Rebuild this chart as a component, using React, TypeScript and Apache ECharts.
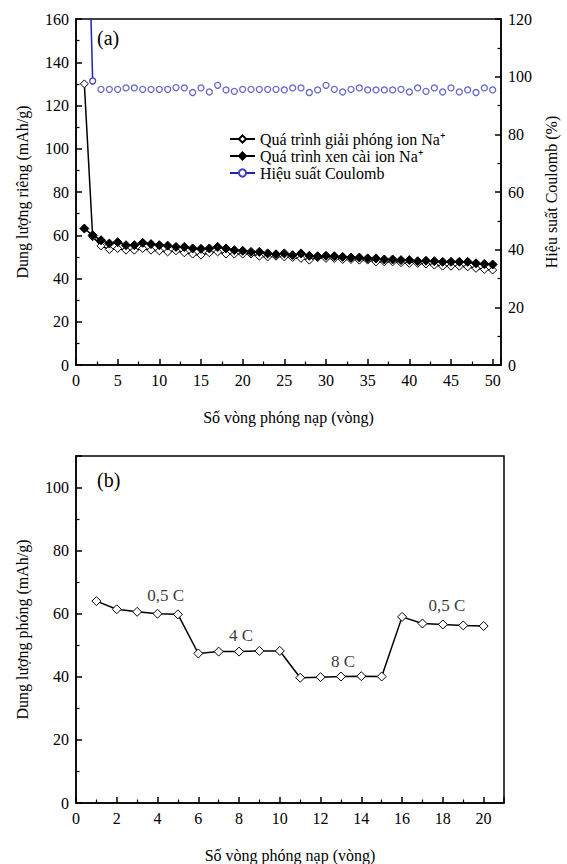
import React, { useEffect, useRef } from "react";
import * as echarts from "echarts";

// ---------- Data (a) ----------
const cyclesA = [1, 2, 3, 4, 5, 6, 7, 8, 9, 10, 11, 12, 13, 14, 15, 16, 17, 18, 19, 20, 21, 22, 23, 24, 25, 26, 27, 28, 29, 30, 31, 32, 33, 34, 35, 36, 37, 38, 39, 40, 41, 42, 43, 44, 45, 46, 47, 48, 49, 50];
// Quá trình giải phóng ion Na+ (hollow diamonds)
const chargeCap = [130, 59.3, 55.1, 53.4, 53.9, 53.1, 53.1, 53.9, 53.1, 52.8, 52.3, 52.8, 51.9, 51.3, 50.8, 51.9, 52.3, 51.3, 51.3, 51.3, 51.3, 50.3, 50.0, 50.3, 50.0, 49.7, 49.3, 48.5, 49.7, 49.3, 49.3, 48.8, 48.8, 48.5, 48.5, 47.7, 47.7, 47.7, 47.3, 47.0, 47.0, 46.7, 46.2, 45.7, 45.7, 45.7, 45.4, 44.7, 44.2, 43.9];
// Quá trình xen cài ion Na+ (filled diamonds)
const dischargeCap = [63.1, 60.0, 57.7, 56.2, 56.8, 55.4, 55.4, 56.5, 55.9, 55.4, 55.2, 54.6, 54.6, 53.9, 53.7, 53.9, 54.6, 53.9, 53.1, 52.8, 52.3, 52.3, 51.6, 51.2, 51.6, 50.8, 51.6, 50.5, 50.3, 50.5, 50.3, 50.0, 49.7, 49.7, 49.3, 49.3, 48.8, 48.8, 48.5, 48.5, 48.0, 48.2, 48.0, 47.7, 47.7, 47.7, 47.7, 47.0, 46.7, 46.5];
// Hiệu suất Coulomb (%)
const coulombEff = [206, 98.5, 95.6, 95.6, 95.6, 96.1, 96.1, 95.6, 95.6, 95.6, 95.6, 96.2, 96.1, 94.5, 96.1, 94.7, 97.0, 95.4, 94.9, 95.6, 95.6, 95.6, 95.6, 95.6, 95.4, 96.1, 96.1, 94.5, 95.4, 97.0, 95.6, 94.7, 95.6, 96.1, 95.4, 95.4, 95.4, 95.4, 95.6, 94.7, 96.1, 94.9, 96.1, 94.7, 96.1, 94.7, 95.4, 94.5, 96.1, 95.4];

// ---------- Data (b) ----------
const cyclesB = [1, 2, 3, 4, 5, 6, 7, 8, 9, 10, 11, 12, 13, 14, 15, 16, 17, 18, 19, 20];
const rateCap = [64.0, 61.4, 60.6, 60.0, 59.8, 47.4, 48.0, 48.0, 48.2, 48.2, 39.7, 39.9, 40.1, 40.2, 40.1, 59.0, 56.9, 56.6, 56.3, 56.1];
const rateLabels: [number, number, string][] = [
  [4.4, 65.8, "0,5 C"],
  [8.1, 53.1, "4 C"],
  [13.1, 44.7, "8 C"],
  [18.2, 62.5, "0,5 C"],
];

const SERIES_CHARGE = "Quá trình giải phóng ion Na⁺";
const SERIES_DISCHARGE = "Quá trình xen cài ion Na⁺";
const SERIES_EFF = "Hiệu suất Coulomb";

const FONT = "Liberation Serif";
const BLACK = "#000";
const BLUE_LINE = "#2222b0";
const BLUE_MARK = "#3f3fbf";

function axisCommon(labelFmt?: (v: number) => string) {
  return {
    axisLine: { show: true, onZero: false, lineStyle: { color: BLACK, width: 1.5 } },
    axisTick: { show: true, inside: true, length: 6, lineStyle: { color: BLACK, width: 1.5 } },
    minorTick: { show: true, splitNumber: 2, length: 3.5, lineStyle: { color: BLACK, width: 1.2 } },
    splitLine: { show: false },
    axisLabel: {
      color: BLACK,
      fontSize: 16,
      fontFamily: FONT,
      margin: 7,
      formatter: labelFmt,
    },
    nameTextStyle: { color: BLACK, fontSize: 16, fontFamily: FONT },
  };
}

export default function App() {
  const ref = useRef<HTMLDivElement>(null);

  useEffect(() => {
    if (!ref.current) return;
    const chart = echarts.init(ref.current, undefined, { renderer: "svg" });

    const zip = (xs: number[], ys: number[]) => xs.map((x, i) => [x, ys[i]]);

    const option: any = {
      animation: false,
      backgroundColor: "#fff",
      textStyle: { fontFamily: FONT },
      grid: [
        { left: 76, right: 63, top: 19, height: 346, show: true, borderColor: BLACK, borderWidth: 1.5, backgroundColor: "transparent" },
        { left: 76, right: 63, top: 456, height: 347, show: true, borderColor: BLACK, borderWidth: 1.5, backgroundColor: "transparent" },
      ],
      xAxis: [
        {
          gridIndex: 0,
          type: "value",
          min: 0,
          max: 51,
          interval: 5,
          ...axisCommon((v: number) => (v % 5 === 0 ? String(v) : "")),
          name: "Số vòng phóng nạp (vòng)",
          nameLocation: "middle",
          nameGap: 44,
        },
        {
          gridIndex: 1,
          type: "value",
          min: 0,
          max: 21,
          interval: 2,
          ...axisCommon((v: number) => (v % 2 === 0 ? String(v) : "")),
          name: "Số vòng phóng nạp (vòng)",
          nameLocation: "middle",
          nameGap: 44,
        },
      ],
      yAxis: [
        {
          gridIndex: 0,
          type: "value",
          min: 0,
          max: 160,
          interval: 20,
          ...axisCommon(),
          name: "Dung lượng riêng (mAh/g)",
          nameLocation: "middle",
          nameGap: 46,
          nameRotate: 90,
        },
        {
          gridIndex: 0,
          type: "value",
          position: "right",
          min: 0,
          max: 120,
          interval: 20,
          ...axisCommon(),
          name: "Hiệu suất Coulomb (%)",
          nameLocation: "middle",
          nameGap: 42,
          nameRotate: 90,
        },
        {
          gridIndex: 1,
          type: "value",
          min: 0,
          max: 110,
          interval: 20,
          ...axisCommon((v: number) => (v % 20 === 0 ? String(v) : "")),
          name: "Dung lượng phóng (mAh/g)",
          nameLocation: "middle",
          nameGap: 46,
          nameRotate: 90,
        },
      ],
      legend: {
        data: [SERIES_CHARGE, SERIES_DISCHARGE, SERIES_EFF],
        orient: "vertical",
        left: 224,
        top: 126,
        itemWidth: 25,
        itemHeight: 9,
        itemGap: 1,
        textStyle: { color: BLACK, fontSize: 16, fontFamily: FONT },
        selectedMode: false,
      },
      graphic: [
        { type: "text", left: 97, top: 28, style: { text: "(a)", fontSize: 20, fontFamily: FONT, fill: BLACK } },
        { type: "text", left: 97, top: 470, style: { text: "(b)", fontSize: 20, fontFamily: FONT, fill: BLACK } },
      ],
      series: [
        {
          name: SERIES_CHARGE,
          type: "line",
          xAxisIndex: 0,
          yAxisIndex: 0,
          data: zip(cyclesA, chargeCap),
          symbol: "diamond",
          symbolSize: 8,
          showAllSymbol: true,
          lineStyle: { color: BLACK, width: 1.5 },
          itemStyle: { color: "#fff", borderColor: BLACK, borderWidth: 1 },
          z: 3,
        },
        {
          name: SERIES_DISCHARGE,
          type: "line",
          xAxisIndex: 0,
          yAxisIndex: 0,
          data: zip(cyclesA, dischargeCap),
          symbol: "diamond",
          symbolSize: 9,
          showAllSymbol: true,
          lineStyle: { color: BLACK, width: 1.5 },
          itemStyle: { color: BLACK, borderColor: BLACK, borderWidth: 1 },
          z: 4,
        },
        {
          name: SERIES_EFF,
          type: "line",
          xAxisIndex: 0,
          yAxisIndex: 1,
          data: zip(cyclesA.slice(0, 2), coulombEff.slice(0, 2)),
          symbol: "circle",
          symbolSize: 6,
          showAllSymbol: true,
          lineStyle: { color: BLUE_LINE, width: 1.5 },
          itemStyle: { color: "#fff", borderColor: BLUE_MARK, borderWidth: 1.3 },
          z: 5,
        },
        {
          name: "eff-points",
          type: "scatter",
          xAxisIndex: 0,
          yAxisIndex: 1,
          data: zip(cyclesA.slice(2), coulombEff.slice(2)),
          symbol: "circle",
          symbolSize: 6,
          itemStyle: { color: "#fff", borderColor: BLUE_MARK, borderWidth: 1.3 },
          z: 5,
        },
        {
          name: "rate",
          type: "line",
          xAxisIndex: 1,
          yAxisIndex: 2,
          data: zip(cyclesB, rateCap),
          symbol: "diamond",
          symbolSize: 9,
          showAllSymbol: true,
          lineStyle: { color: BLACK, width: 1.5 },
          itemStyle: { color: "#fff", borderColor: BLACK, borderWidth: 1 },
        },
        {
          name: "rate-labels",
          type: "scatter",
          xAxisIndex: 1,
          yAxisIndex: 2,
          data: rateLabels.map((r) => [r[0], r[1], r[2]]),
          symbolSize: 1,
          silent: true,
          itemStyle: { color: "transparent" },
          label: {
            show: true,
            position: "inside",
            formatter: (p: any) => p.data[2],
            color: BLACK,
            fontSize: 17,
            fontFamily: FONT,
          },
        },
      ],
    };

    chart.setOption(option);
    return () => chart.dispose();
  }, []);

  return (
    <div
      ref={ref}
      style={{ position: "fixed", left: 0, top: 0, width: 567, height: 864, background: "#fff" }}
    />
  );
}
